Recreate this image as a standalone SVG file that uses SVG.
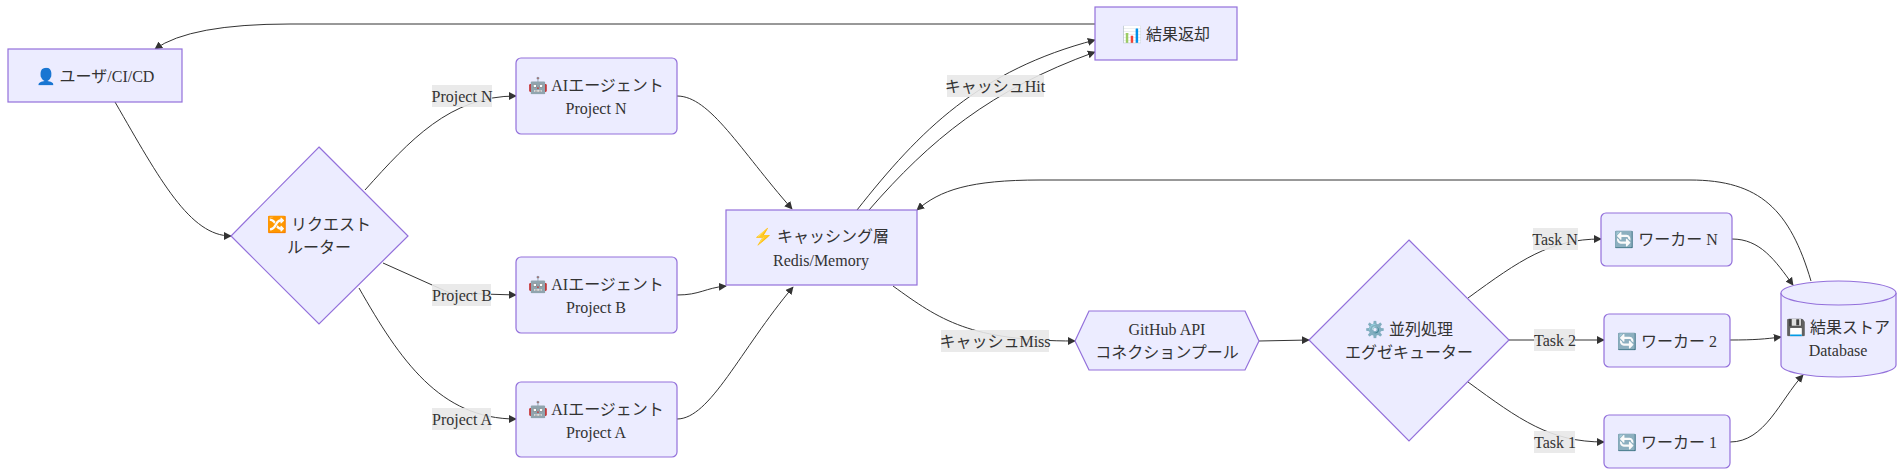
<svg xmlns="http://www.w3.org/2000/svg" width="1904" height="476" viewBox="0 0 1904 476">
<style>
.n{fill:#ECECFF;stroke:#9370DB;stroke-width:1.2}
.e{fill:none;stroke:#333;stroke-width:1}
text{font-family:"Liberation Serif","Noto Sans CJK JP",serif;font-size:16px;fill:#333;text-anchor:middle;dominant-baseline:central}
.lb{fill:#E8E8E8;opacity:0.9}
</style>
<defs><marker id="a" viewBox="0 0 10 10" refX="9" refY="5" markerWidth="8" markerHeight="8" orient="auto"><path d="M0,0L10,5L0,10z" fill="#333"/></marker></defs>
<rect width="1904" height="476" fill="#fff"/>
<g id="connectors">
<path class="e" marker-end="url(#a)" d="M1095,24 L290,24 Q190,24 155,49"/>
<path class="e" marker-end="url(#a)" d="M115,102 C160,180 190,236 231,236"/>
<path class="e" marker-end="url(#a)" d="M365,190 C410,140 450,96 516,96"/>
<path class="e" marker-end="url(#a)" d="M383,263 L450,293 L516,295"/>
<path class="e" marker-end="url(#a)" d="M359,288 C400,360 440,419 516,419"/>
<path class="e" marker-end="url(#a)" d="M677,96 C710,96 740,150 792,209"/>
<path class="e" marker-end="url(#a)" d="M677,295 C700,295 705,288 726,286"/>
<path class="e" marker-end="url(#a)" d="M677,419 C710,419 740,350 793,287"/>
<path class="e" marker-end="url(#a)" d="M857,210 C920,130 980,70 1095,40"/>
<path class="e" marker-end="url(#a)" d="M869,210 C930,140 990,90 1095,52"/>
<path class="e" marker-end="url(#a)" d="M893,286 C940,320 970,341 1075,341"/>
<path class="e" marker-end="url(#a)" d="M1259,341 L1309,340"/>
<path class="e" marker-end="url(#a)" d="M1468,298 C1520,260 1550,239 1601,239"/>
<path class="e" marker-end="url(#a)" d="M1509,340 L1604,340"/>
<path class="e" marker-end="url(#a)" d="M1468,382 C1520,420 1550,442 1604,442"/>
<path class="e" marker-end="url(#a)" d="M1732,239 C1760,239 1775,260 1793,285"/>
<path class="e" marker-end="url(#a)" d="M1730,340 C1755,340 1765,339 1781,337"/>
<path class="e" marker-end="url(#a)" d="M1730,442 C1765,442 1780,400 1803,375"/>
<path class="e" marker-end="url(#a)" d="M1811,281 C1790,210 1760,180 1690,180 L1040,180 C970,180 940,190 917,210"/>
<rect class="lb" x="432" y="85" width="60" height="22"/><text x="462" y="96">Project N</text>
<rect class="lb" x="432" y="284" width="59" height="22"/><text x="462" y="295">Project B</text>
<rect class="lb" x="432" y="408" width="59" height="22"/><text x="462" y="419">Project A</text>
<rect class="lb" x="947" y="75" width="97" height="22"/><text x="995" y="86">キャッシュHit</text>
<rect class="lb" x="941" y="330" width="108" height="22"/><text x="995" y="341">キャッシュMiss</text>
<rect class="lb" x="1533" y="228" width="45" height="22"/><text x="1555" y="239">Task N</text>
<rect class="lb" x="1534" y="329" width="41" height="22"/><text x="1555" y="340">Task 2</text>
<rect class="lb" x="1534" y="431" width="41" height="22"/><text x="1555" y="442">Task 1</text>
</g>
<g id="user"><rect class="n" x="8" y="49" width="174" height="53"/><text x="95" y="76">👤 ユーザ/CI/CD</text></g>
<g id="router"><polygon class="n" points="319,147 408,236 319,324 231,236"/><text x="319" y="224">🔀 リクエスト</text><text x="319" y="247">ルーター</text></g>
<g id="agentN"><rect class="n" x="516" y="58" width="161" height="76" rx="5"/><text x="596" y="85">🤖 AIエージェント</text><text x="596" y="108">Project N</text></g>
<g id="agentB"><rect class="n" x="516" y="257" width="161" height="76" rx="5"/><text x="596" y="284">🤖 AIエージェント</text><text x="596" y="307">Project B</text></g>
<g id="agentA"><rect class="n" x="516" y="382" width="161" height="75" rx="5"/><text x="596" y="409">🤖 AIエージェント</text><text x="596" y="432">Project A</text></g>
<g id="cache"><rect class="n" x="726" y="210" width="191" height="75"/><text x="821" y="236">⚡ キャッシング層</text><text x="821" y="260">Redis/Memory</text></g>
<g id="result"><rect class="n" x="1095" y="7" width="142" height="53"/><text x="1166" y="34">📊 結果返却</text></g>
<g id="github"><polygon class="n" points="1089,311 1245,311 1259,341 1245,370 1089,370 1075,341"/><text x="1167" y="329">GitHub API</text><text x="1167" y="352">コネクションプール</text></g>
<g id="executor"><polygon class="n" points="1409,240 1509,340 1409,441 1309,340"/><text x="1409" y="329">⚙️ 並列処理</text><text x="1409" y="352">エグゼキューター</text></g>
<g id="workerN"><rect class="n" x="1601" y="213" width="131" height="53" rx="5"/><text x="1666" y="239">🔄 ワーカー N</text></g>
<g id="worker2"><rect class="n" x="1604" y="314" width="126" height="53" rx="5"/><text x="1667" y="341">🔄 ワーカー 2</text></g>
<g id="worker1"><rect class="n" x="1604" y="415" width="126" height="53" rx="5"/><text x="1667" y="442">🔄 ワーカー 1</text></g>
<g id="db"><path class="n" d="M1781,293 A57.5,12 0 0 1 1896,293 L1896,365 A57.5,12 0 0 1 1781,365 Z"/><path class="n" fill="none" d="M1781,293 A57.5,12 0 0 0 1896,293"/><text x="1838" y="327">💾 結果ストア</text><text x="1838" y="350">Database</text></g>
</svg>
